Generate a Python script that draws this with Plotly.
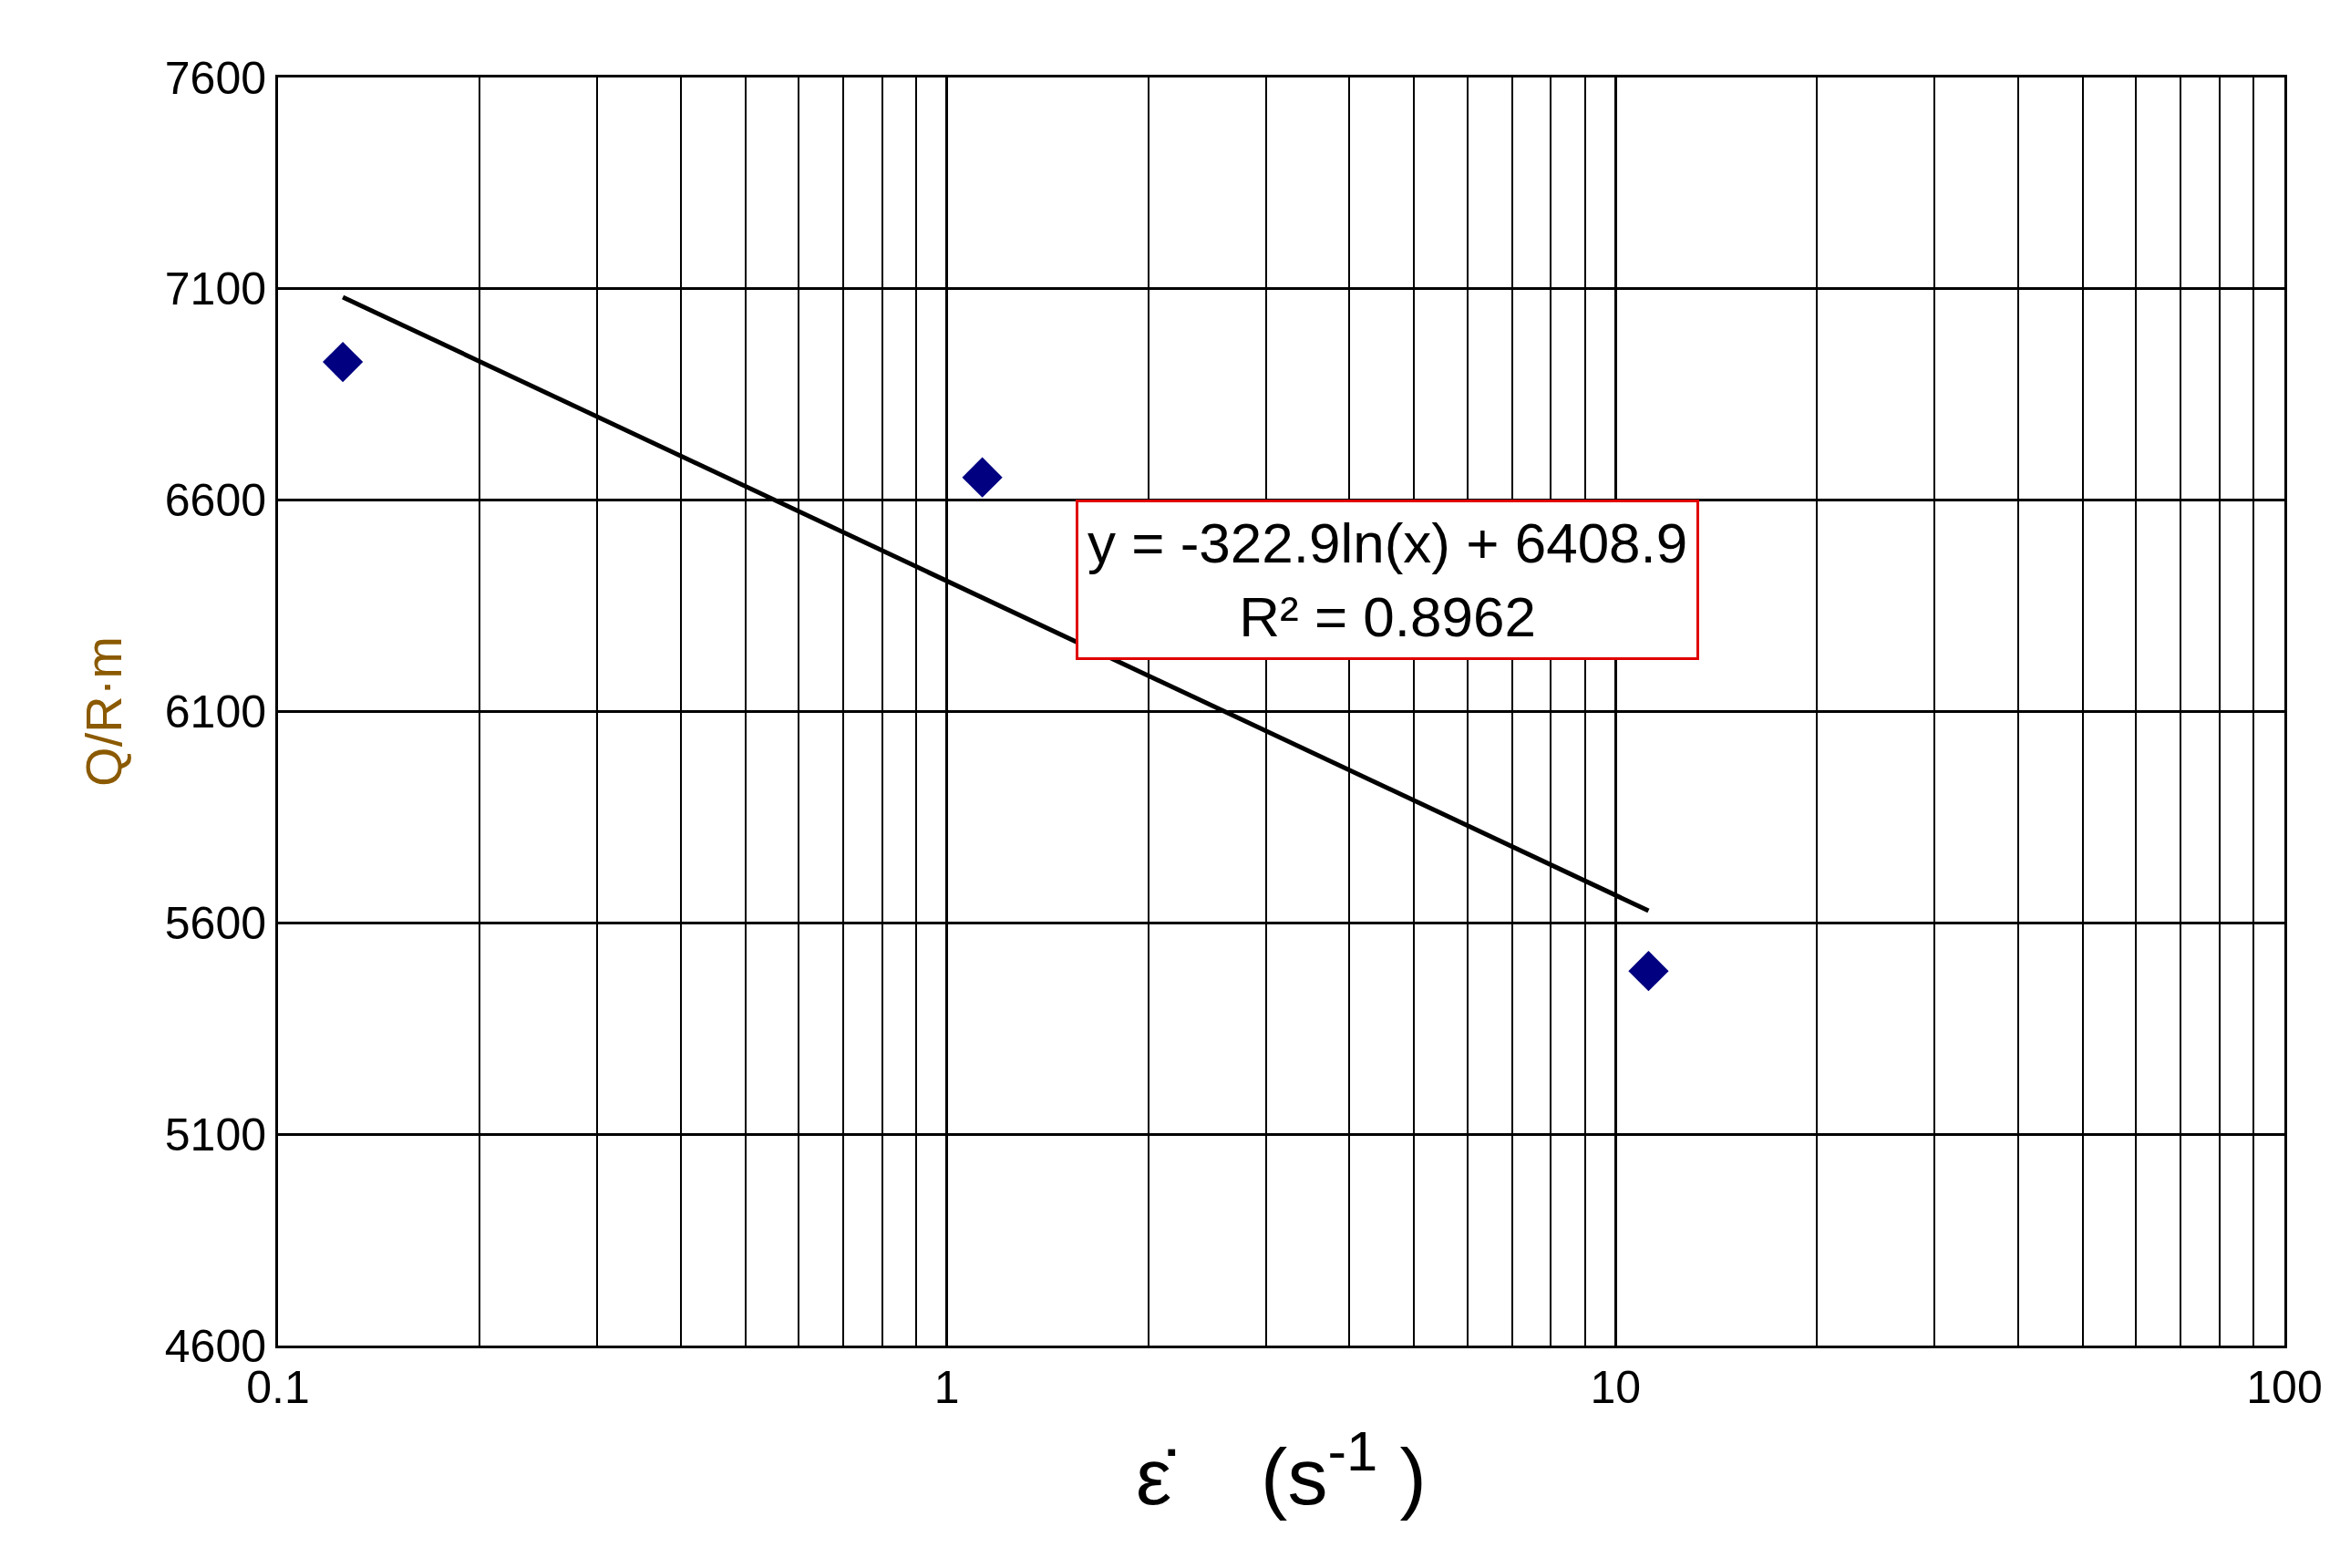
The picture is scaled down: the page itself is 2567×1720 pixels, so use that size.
import numpy as np
import plotly.graph_objects as go

x_pts = [0.125, 1.13, 11.2]
y_pts = [6927, 6654, 5486]
slope = -322.9
intercept = 6408.9
r2 = 0.8962
x_ticks = [0.1, 1, 10, 100]
x_tick_text = ["0.1", "1", "10", "100"]
y_ticks = [4600, 5100, 5600, 6100, 6600, 7100, 7600]

x_fit = np.logspace(np.log10(x_pts[0]), np.log10(x_pts[-1]), 60)
y_fit = slope * np.log(x_fit) + intercept

fig = go.Figure()
fig.add_trace(go.Scatter(x=x_fit, y=y_fit, mode="lines",
                         line=dict(color="black", width=5), showlegend=False))
fig.add_trace(go.Scatter(x=x_pts, y=y_pts, mode="markers",
                         marker=dict(symbol="diamond", size=34, color="#000080"),
                         showlegend=False))

fig.add_annotation(x=0.553, y=0.667, xref="paper", yref="paper",
                   text=f"y = {slope}ln(x) + {intercept}<br>R² = {r2}",
                   showarrow=False, font=dict(family="Liberation Sans, Arial", size=62, color="black"),
                   bordercolor="#e00000", borderwidth=3, borderpad=10, bgcolor="white")

fig.update_layout(
    width=2567, height=1720, paper_bgcolor="white", plot_bgcolor="white",
    margin=dict(l=297, r=69, t=77, b=252),
    font=dict(family="Liberation Sans, Arial", color="black"),
    xaxis=dict(type="log", range=[-1, 2], tickvals=x_ticks, ticktext=x_tick_text,
               showgrid=True, gridcolor="black", gridwidth=3,
               minor=dict(dtick="D1", showgrid=True, gridcolor="black", gridwidth=2, ticks=""),
               showline=True, linecolor="black", linewidth=3, mirror=True,
               tickfont=dict(size=50), ticks="", zeroline=False,
               title=dict(text="ε̇    (s<sup>-1</sup> )", font=dict(size=88), standoff=40)),
    yaxis=dict(range=[4600, 7600], tickvals=y_ticks,
               showgrid=True, gridcolor="black", gridwidth=3,
               showline=True, linecolor="black", linewidth=3, mirror=True,
               tickfont=dict(size=50), ticks="", zeroline=False,
               title=dict(text="Q/R·m", font=dict(size=56, color="#8B5A00"), standoff=30)),
)
fig.write_html("out.html")
